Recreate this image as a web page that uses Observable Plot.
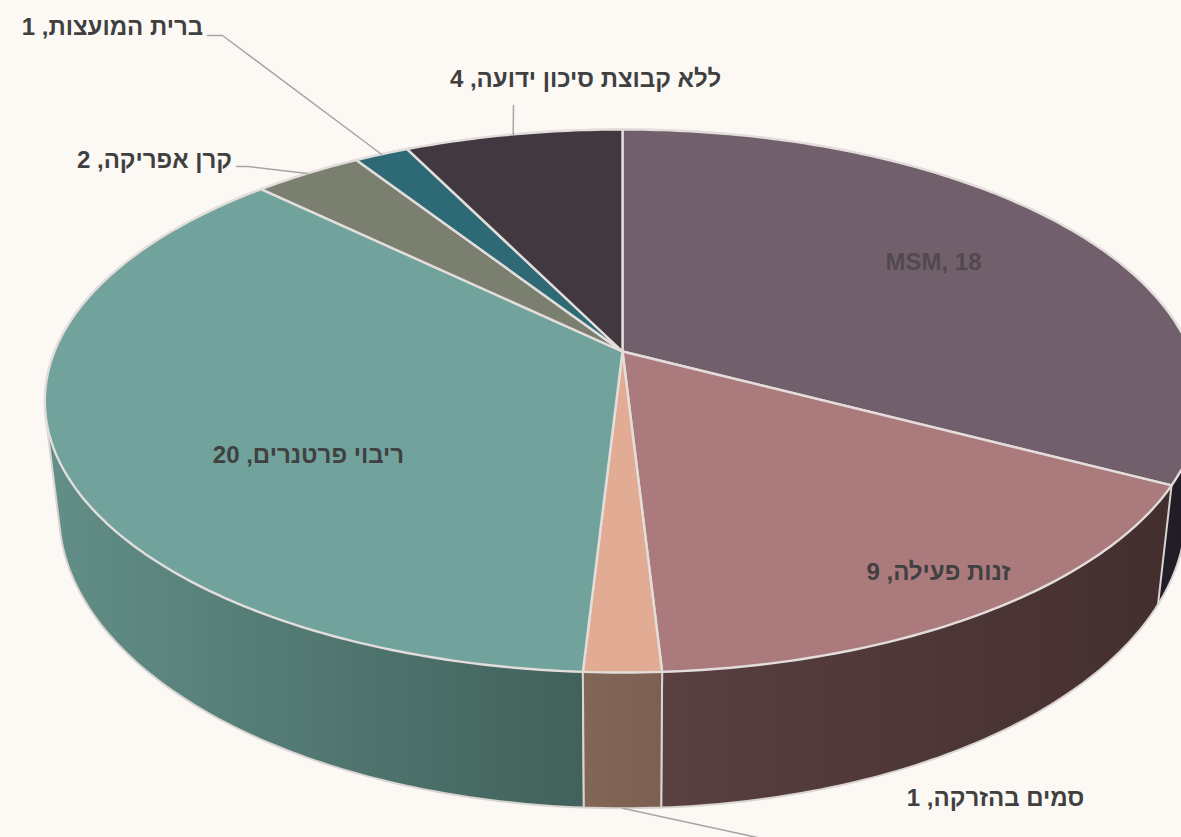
<!DOCTYPE html>
<html lang="he">
<head>
<meta charset="utf-8">
<script src="https://cdn.jsdelivr.net/npm/d3@7"></script>
<script src="https://cdn.jsdelivr.net/npm/@observablehq/plot@0.6"></script>
<style>
html,body{margin:0;padding:0;background:#fcf9f5;overflow:hidden}
svg{display:block}
.he text{direction:rtl;unicode-bidi:embed}
</style>
</head>
<body>
<div id="chart"></div>
<script>
// data
const categories = ["MSM","זנות פעילה","סמים בהזרקה","ריבוי פרטנרים","קרן אפריקה","ברית המועצות","ללא קבוצת סיכון ידועה"];
const values = [18,9,1,20,2,1,4];
const labels = ["MSM, 18","זנות פעילה, 9","סמים בהזרקה, 1","ריבוי פרטנרים, 20","קרן אפריקה, 2","ברית המועצות, 1","ללא קבוצת סיכון ידועה, 4"];
// styles
const topColors = ["#71606b","#ab7a7c","#e2ab94","#71a29b","#7a7f70","#2e6a75","#413840"];
const wallStart = ["#2a2630","#5a4040","#826656","#628f88","#5a6054","#204a52","#2c2630"];
const wallEnd   = ["#211d26","#432e2e","#7c5f50","#41615b","#5a6054","#204a52","#2c2630"];
// layout: pie projection and label placement, in pixels
const W = 1181, H = 837;
const top3d = {cx:622, cy:351, a:262.5, b:568};
const bot3d = {cx:622, cy:458, a:286, b:554};
const k = 0.1823;
const labelAt = [[933,262],[938,572],[995,798],[308,455],[154,160],[112,27],[585,79]];
const labelColor = ["#544850","#404040","#404040","#404040","#404040","#404040","#404040"];
// leader: start points are placed by hand, the end is derived from the slice's mid-value
const leaders = [
  {i:2, plane:"bot", pts:[[757,837]]},
  {i:4, plane:"top", pts:[[236,166],[248,166]]},
  {i:5, plane:"top", pts:[[207,35],[222,35]]},
  {i:6, plane:"top", pts:[[513,105]]}
];

const total = d3.sum(values);
const cum = [0, ...d3.cumsum(values)];
function project(p, v){
  const t = v / total * 2 * Math.PI, d = 1 + k * Math.cos(t);
  return {x: p.cx + p.b * Math.sin(t) / d, y: p.cy - p.a * Math.cos(t) / d};
}
function arc(p, v0, v1){
  const n = Math.max(2, Math.ceil((v1 - v0) * 8));
  return d3.range(n + 1).map(j => project(p, v0 + (v1 - v0) * j / n));
}
const slices = values.map((v, i) => ({i, v0: cum[i], v1: cum[i + 1]}));
const topPoly = s => [{x: top3d.cx, y: top3d.cy}, ...arc(top3d, s.v0, s.v1), {x: top3d.cx, y: top3d.cy}];
const wallPoly = s => {
  // the convex hull of both rims gives the wall its straight silhouette; the top face hides the rest
  const hull = d3.polygonHull([...arc(top3d, s.v0, s.v1), ...arc(bot3d, s.v0, s.v1)].map(p => [p.x, p.y]));
  return [...hull, hull[0]].map(([x, y]) => ({x, y}));
};
const defs = () => {
  const d = d3.create("svg:defs");
  slices.forEach(s => {
    const g = d.append("linearGradient").attr("id", "wall" + s.i).attr("x1", 0).attr("x2", 1).attr("y1", 0).attr("y2", 0);
    g.append("stop").attr("offset", 0).attr("stop-color", wallStart[s.i]);
    g.append("stop").attr("offset", 1).attr("stop-color", wallEnd[s.i]);
  });
  return d.node();
};
const leaderData = leaders.flatMap(l => {
  const end = project(l.plane === "top" ? top3d : bot3d, (cum[l.i] + cum[l.i + 1]) / 2);
  return [...l.pts.map(([x, y]) => ({x, y, id: l.i})), {x: end.x, y: end.y, id: l.i}];
});
const textData = labels.map((t, i) => ({t, i, x: labelAt[i][0], y: labelAt[i][1], color: labelColor[i]}));
const hebrew = textData.filter(d => d.i !== 0), latin = textData.filter(d => d.i === 0);
const textOpts = {x:"x", y:"y", text:"t", fill:"color", fontSize:24, fontWeight:"bold", fontFamily:"Liberation Sans", textAnchor:"middle"};

// walls drawn far-to-near: right-hand wall, then left teal, then the front ones
const wallOrder = [0,6,5,4,3,1,2];
const plot = Plot.plot({
  width: W, height: H, margin: 0,
  style: {background: "#fcf9f5"},
  x: {domain: [0, W], axis: null},
  y: {domain: [H, 0], axis: null},
  marks: [
    defs,
    ...wallOrder.map(i => Plot.line(wallPoly(slices[i]), {x:"x", y:"y", fill:`url(#wall${i})`, stroke:"#d9d3d1", strokeWidth:2, strokeLinejoin:"round"})),
    ...slices.map(s => Plot.line(topPoly(s), {x:"x", y:"y", fill:topColors[s.i], stroke:"#e3dedc", strokeWidth:2.4, strokeLinejoin:"round"})),
    Plot.line(leaderData, {x:"x", y:"y", z:"id", stroke:"#a6a6a6", strokeWidth:1.5}),
    Plot.text(latin, textOpts),
    Plot.text(hebrew, {...textOpts, className:"he"})
  ]
});
document.getElementById("chart").append(plot);
</script>
</body>
</html>
